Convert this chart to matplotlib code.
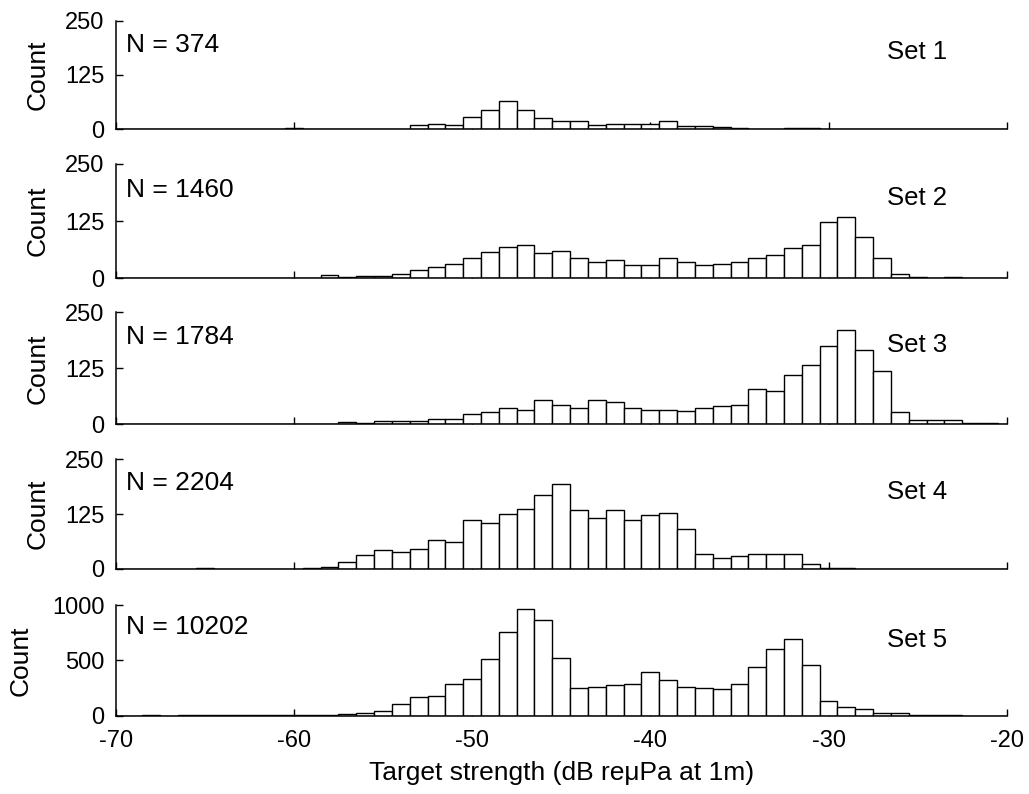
import numpy as np
import matplotlib
matplotlib.use("Agg")
import matplotlib.pyplot as plt

plt.rcParams['font.family'] = ['Liberation Sans', 'DejaVu Sans']
plt.rcParams['axes.unicode_minus'] = False

# bin centres (1 dB bins), -70 ... -20
bin_centers = np.arange(-70, -19)

# counts per bin (index 0 -> -70 dB, last -> -20 dB)
set1_counts = [0, 0, 0, 0, 0, 0, 0, 0, 0, 1, 2, 0, 0, 1, 0, 0, 0,
               10, 13, 10, 28, 44, 66, 44, 25, 18, 18, 9, 13, 13, 13, 18, 7, 7, 5,
               2, 0, 1, 2, 2, 1, 1, 0, 0, 0, 0, 0, 0, 0, 0, 0]
set2_counts = [0, 0, 0, 0, 0, 0, 0, 0, 1, 1, 1, 0, 8, 2, 6, 6, 10,
               18, 25, 32, 44, 58, 68, 73, 55, 59, 44, 36, 39, 28, 28, 44, 36, 29, 32,
               36, 44, 51, 66, 73, 124, 133, 90, 44, 10, 2, 1, 2, 0, 0, 0]
set3_counts = [0, 0, 0, 0, 0, 0, 0, 0, 0, 0, 0, 0, 0, 6, 4, 7, 7,
               7, 12, 12, 22, 27, 36, 33, 54, 43, 37, 54, 50, 36, 33, 33, 30, 37, 40,
               43, 79, 75, 111, 133, 175, 210, 167, 119, 27, 9, 9, 9, 4, 4, 0]
set4_counts = [0, 0, 0, 0, 0, 2, 0, 0, 0, 0, 0, 2, 5, 17, 31, 43, 39,
               46, 65, 62, 111, 104, 126, 137, 168, 194, 135, 117, 134, 111, 123, 127, 92, 35, 24,
               29, 35, 33, 33, 12, 3, 2, 0, 0, 0, 0, 0, 0, 0, 0, 0]
set5_counts = [0, 0, 5, 0, 8, 8, 8, 3, 3, 3, 3, 3, 3, 16, 26, 45, 110,
               168, 181, 289, 336, 509, 756, 961, 867, 520, 247, 259, 275, 291, 399, 320, 263, 247, 244,
               291, 441, 599, 693, 462, 137, 79, 60, 26, 26, 8, 3, 8, 0, 0, 0]

all_counts = [set1_counts, set2_counts, set3_counts, set4_counts, set5_counts]
set_labels = ["Set 1", "Set 2", "Set 3", "Set 4", "Set 5"]
n_labels = ["N = 374", "N = 1460", "N = 1784", "N = 2204", "N = 10202"]
y_ticks = [[0, 125, 250]] * 4 + [[0, 500, 1000]]
x_ticks = [-70, -60, -50, -40, -30, -20]

# axes boxes in figure fractions (left, bottom, width, height)
boxes = [
    (0.1124, 0.8372, 0.866, 0.1368),
    (0.1124, 0.6495, 0.866, 0.1440),
    (0.1124, 0.4656, 0.866, 0.1410),
    (0.1124, 0.2834, 0.866, 0.1382),
    (0.1124, 0.0986, 0.866, 0.1394),
]
n_text_y = [0.776, 0.77, 0.78, 0.78, 0.80]
set_text_y = [0.71, 0.70, 0.71, 0.70, 0.68]

fig = plt.figure(figsize=(10.29, 7.94), dpi=100)

for i, counts in enumerate(all_counts):
    ax = fig.add_axes(boxes[i])
    ax.set_axisbelow(True)
    ax.bar(bin_centers, counts, width=1.0, color="white",
           edgecolor="black", linewidth=1.0, zorder=1)
    ax.set_xlim(-70, -20)
    ax.set_ylim(0, y_ticks[i][-1])
    ax.set_yticks(y_ticks[i])
    ax.set_xticks(x_ticks)
    for side in ("top", "right"):
        ax.spines[side].set_visible(False)
    for side in ("left", "bottom"):
        ax.spines[side].set_linewidth(1.1)
        ax.spines[side].set_zorder(3)
    ax.tick_params(direction="in", length=5, width=1.0, labelsize=17, pad=8)
    ax.tick_params(axis="x", pad=10)
    if i < 4:
        ax.tick_params(axis="x", labelbottom=False)
        ax.yaxis.set_label_coords(-0.074, 0.5)
    else:
        ax.set_xlabel("Target strength (dB re\u03bcPa at 1m)", fontsize=19, labelpad=7)
        ax.yaxis.set_label_coords(-0.093, 0.5)
    ax.set_ylabel("Count", fontsize=19)
    ax.text(0.012, n_text_y[i], n_labels[i], transform=ax.transAxes,
            fontsize=19, va="center", ha="left")
    ax.text(0.866, set_text_y[i], set_labels[i], transform=ax.transAxes,
            fontsize=18.5, va="center", ha="left")

plt.savefig("out.png", dpi=100)
plt.close()
